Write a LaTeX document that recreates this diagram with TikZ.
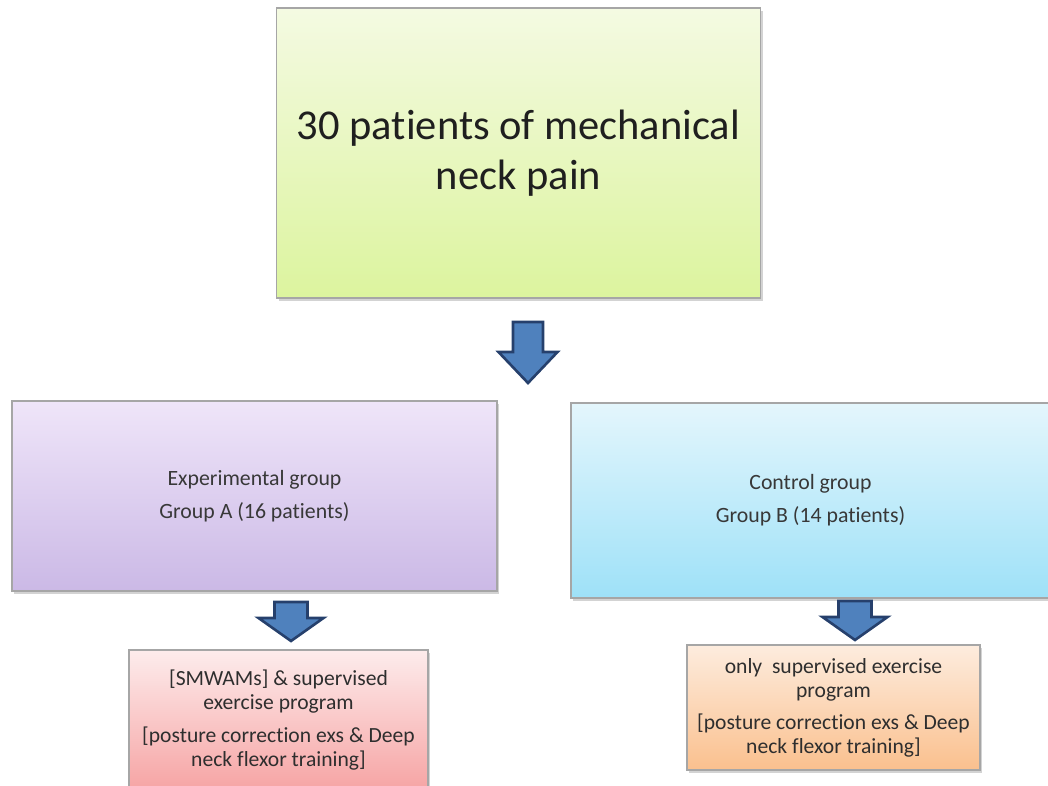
\documentclass[tikz,border=0pt]{standalone}
\usepackage{fontspec}
\setmainfont[Ligatures=NoCommon]{Carlito}
\usetikzlibrary{shadows,shadings}

\definecolor{intakeTop}{RGB}{244,250,226}
\definecolor{intakeBot}{RGB}{220,244,158}
\definecolor{expTop}{RGB}{239,229,249}
\definecolor{expBot}{RGB}{203,185,230}
\definecolor{ctrlTop}{RGB}{228,246,252}
\definecolor{ctrlBot}{RGB}{158,225,248}
\definecolor{rxATop}{RGB}{253,236,236}
\definecolor{rxABot}{RGB}{246,164,164}
\definecolor{rxBTop}{RGB}{253,236,222}
\definecolor{rxBBot}{RGB}{250,192,142}
\definecolor{arrowFill}{RGB}{79,129,189}
\definecolor{arrowEdge}{RGB}{38,64,108}

\tikzset{
    box/.style={draw=black!35, line width=1.2pt, align=center, inner sep=0pt,
        text=black!88,
        drop shadow={shadow xshift=2pt, shadow yshift=-3pt, opacity=0.35}},
    blockarrow/.style={fill=arrowFill, draw=arrowEdge, line width=2.6pt, line join=miter}
}

\begin{document}
\begin{tikzpicture}[x=1pt, y=-1pt]
    \useasboundingbox (0,0) rectangle (1048,785);

    % top box
    \node[box, top color=intakeTop, bottom color=intakeBot,
          minimum width=484pt, minimum height=290pt,
          font=\fontsize{42.5}{50}\selectfont] (intake) at (518.5,153)
        {30 patients of mechanical\\neck pain};

    % groups
    \node[box, top color=expTop, bottom color=expBot,
          minimum width=485pt, minimum height=190pt, text=black!78,
          font=\fontsize{21.8}{33}\selectfont] (groupA) at (254.5,496)
        {Experimental group\\Group A (16 patients)};
    \node[box, top color=ctrlTop, bottom color=ctrlBot,
          minimum width=479pt, minimum height=195pt, text=black!78,
          font=\fontsize{21.8}{33}\selectfont] (groupB) at (810.5,500.5)
        {Control group\\Group B (14 patients)};

    % treatments
    \node[box, top color=rxATop, bottom color=rxABot,
          minimum width=299pt, minimum height=140pt, text=black!82,
          font=\fontsize{21.6}{24}\selectfont] (treatA) at (278.5,720)
        {[SMWAMs] \& supervised\\exercise program\\[9pt]
         [posture correction exs \& Deep\\neck flexor training]};
    \node[box, top color=rxBTop, bottom color=rxBBot,
          minimum width=293pt, minimum height=125pt, text=black!82,
          font=\fontsize{21.6}{24}\selectfont] (treatB) at (833.5,707.5)
        {only\ \ supervised exercise\\program\\[8pt]
         [posture correction exs \& Deep\\neck flexor training]};

    % block arrows, tip first
    \coordinate (tipTop) at (528,383);
    \coordinate (tipA) at (291,641);
    \coordinate (tipB) at (855,640);

    \draw[blockarrow] (tipTop) -- ++(-29.5,-31) -- ++(14.5,0) -- ++(0,-30)
        -- ++(30,0) -- ++(0,30) -- ++(14.5,0) -- cycle;
    \foreach \t in {tipA,tipB} {
        \draw[blockarrow] (\t) -- ++(-32.5,-23) -- ++(16,0) -- ++(0,-16)
            -- ++(33,0) -- ++(0,16) -- ++(16,0) -- cycle;
    }
\end{tikzpicture}
\end{document}
